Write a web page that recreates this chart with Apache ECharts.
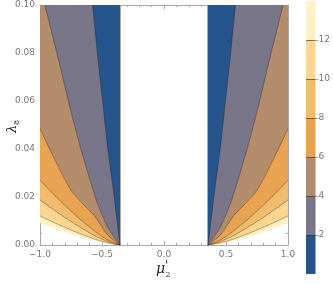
<!DOCTYPE html>
<html><head><meta charset="utf-8">
<script src="https://cdn.jsdelivr.net/npm/echarts@6/dist/echarts.min.js"></script>
<style>html,body{margin:0;padding:0;background:#fff}#c{width:333px;height:284px}</style>
</head><body><div id="c"></div>
<script>
// contour levels and band colours (band below each level)
const levels = [2, 4, 6, 8, 10, 12, 14];
const bandColors = ['#25558C', '#7A768A', '#B28C6B', '#E8A352', '#F2BC6E', '#FDD68F', '#FFF1C4'];
const muEdge = -0.355;           // inner (white) boundary on the left side
const xTicks = [-1, -0.5, 0, 0.5, 1];
const yTicks = [0, 0.02, 0.04, 0.06, 0.08, 0.1];
const barTicks = [2, 4, 6, 8, 10, 12];

// left-side contour curves [mu, lambda], from the fan point outward (right side is mirrored)
const contour2  = [[-0.355, 0], [-0.403, 0.0209], [-0.452, 0.0397], [-0.492, 0.0586], [-0.532, 0.0774], [-0.575, 0.1]];
const contour4  = [[-0.355, 0], [-0.455, 0.0075], [-0.546, 0.0188], [-0.669, 0.0397], [-0.760, 0.0577], [-0.851, 0.0774], [-0.960, 0.1]];
const contour6  = [[-0.355, 0], [-0.455, 0.0042], [-0.556, 0.0118], [-0.750, 0.0228], [-0.919, 0.0397], [-1, 0.0485]];
const contour8  = [[-0.355, 0], [-0.455, 0.0021], [-0.555, 0.0056], [-0.705, 0.0120], [-0.855, 0.0193], [-1, 0.0270]];
const contour10 = [[-0.355, 0], [-0.455, 0.0014], [-0.555, 0.0038], [-0.705, 0.0083], [-0.855, 0.0134], [-1, 0.0188]];
const contour12 = [[-0.355, 0], [-0.455, 0.0009], [-0.555, 0.0024], [-0.705, 0.0053], [-0.855, 0.0086], [-1, 0.0121]];
const contour14 = [[-0.355, 0], [-0.455, 0.0007], [-0.555, 0.0018], [-0.705, 0.0040], [-0.855, 0.0065], [-1, 0.0092]];
const contours = [contour2, contour4, contour6, contour8, contour10, contour12, contour14];

function mirror(pts, s) { return pts.map(p => [s * p[0], p[1]]); }
function regionPoly(c, s) {
  const pts = mirror(c, s);
  const last = pts[pts.length - 1];
  if (last[1] < 0.1) pts.push([last[0], 0.1]);
  pts.push([s * muEdge, 0.1]);
  return pts;
}
const polys = [];
for (let k = levels.length - 1; k >= 0; k--) {
  [1, -1].forEach(s => polys.push({ pts: regionPoly(contours[k], s), color: bandColors[k] }));
}
const fmt = (v, d) => (v < 0 ? '\u2212' : '') + Math.abs(v).toFixed(d);
const frameColor = '#a8a8a8';
const labelStyle = { color: '#777', fontSize: 9, fontFamily: 'DejaVu Sans' };

const series = [{
  type: 'custom', xAxisIndex: 0, yAxisIndex: 0, clip: true,
  data: polys.map((p, i) => [i, 0]),
  encode: { x: 0, y: 1 },
  renderItem: (params, api) => {
    const p = polys[params.dataIndex];
    return { type: 'polygon', shape: { points: p.pts.map(q => api.coord(q)) },
      style: { fill: p.color, stroke: p.color, lineWidth: 0.4 } };
  }, z: 1, silent: true
}];
for (let k = 0; k < levels.length - 1; k++) {
  [1, -1].forEach(s => series.push({
    type: 'line', xAxisIndex: 0, yAxisIndex: 0, data: mirror(contours[k], s),
    symbol: 'none', smooth: 0.25, clip: true, silent: true, z: 3,
    lineStyle: { color: 'rgba(50,35,25,0.6)', width: 0.6 }
  }));
}
// colour bar
bandColors.forEach((c, i) => series.push({
  type: 'bar', xAxisIndex: 2, yAxisIndex: 2, stack: 'bar', data: [levels[i] - (i ? levels[i - 1] : 0)],
  barWidth: '100%', itemStyle: { color: c }, silent: true,
  markLine: i === 0 ? { symbol: 'none', silent: true, label: { show: false },
    lineStyle: { color: 'rgba(60,40,25,0.6)', width: 1, type: 'solid' },
    data: barTicks.map(v => ({ yAxis: v })) } : undefined
}));

function xAx(pos, showLabel) {
  return { type: 'value', gridIndex: 0, min: -1, max: 1, interval: 0.5, position: pos,
    axisLine: { show: true, onZero: false, lineStyle: { color: frameColor, width: 1 } },
    axisTick: { show: true, inside: true, length: 4, lineStyle: { color: frameColor } },
    minorTick: { show: true, splitNumber: 5, length: 2, lineStyle: { color: frameColor } },
    axisLabel: Object.assign({ show: showLabel, margin: 5, formatter: v => fmt(v, 1) }, labelStyle),
    splitLine: { show: false } };
}
function yAx(pos, showLabel) {
  return { type: 'value', gridIndex: 0, min: 0, max: 0.1, interval: 0.02, position: pos,
    axisLine: { show: true, onZero: false, lineStyle: { color: frameColor, width: 1 } },
    axisTick: { show: true, inside: true, length: 4, lineStyle: { color: frameColor } },
    minorTick: { show: true, splitNumber: 4, length: 2, lineStyle: { color: frameColor } },
    axisLabel: Object.assign({ show: showLabel, margin: 5, formatter: v => fmt(v, 2) }, labelStyle),
    splitLine: { show: false } };
}
const chart = echarts.init(document.getElementById('c'), null, { renderer: 'canvas' });
chart.setOption({
  animation: false,
  grid: [{ left: 40, right: 45, top: 5, bottom: 39 }, { left: 306, width: 12, top: 1, height: 273 }],
  xAxis: [xAx('bottom', true), xAx('top', false),
    { type: 'category', gridIndex: 1, data: ['bar'], show: false }],
  yAxis: [yAx('left', true), yAx('right', false),
    { type: 'value', gridIndex: 1, min: 0, max: 14, position: 'right',
      axisLine: { show: false }, splitLine: { show: false },
      axisTick: { show: true, inside: false, length: 3, customValues: barTicks, lineStyle: { color: frameColor } },
      axisLabel: Object.assign({ margin: 3, customValues: barTicks }, labelStyle) }],
  series: series,
  graphic: [
    { type: 'group', x: 156, y: 262, children: [
      { type: 'text', x: 0, y: 0, style: { text: '\u03bc', font: 'italic 14px "DejaVu Serif"', fill: '#222' } },
      { type: 'text', x: 9, y: -1, style: { text: "'", font: 'italic 12px "DejaVu Serif"', fill: '#222' } },
      { type: 'text', x: 9.5, y: 9, style: { text: '2', font: '8px "DejaVu Serif"', fill: '#222' } }
    ] },
    { type: 'group', x: 14, y: 128, rotation: Math.PI / 2, children: [
      { type: 'text', x: -5, y: -8, style: { text: '\u03bb', font: 'italic 13px "DejaVu Serif"', fill: '#222' } },
      { type: 'text', x: 3, y: -1, style: { text: '8', font: '8px "DejaVu Serif"', fill: '#222' } }
    ] }
  ]
});
</script></body></html>
